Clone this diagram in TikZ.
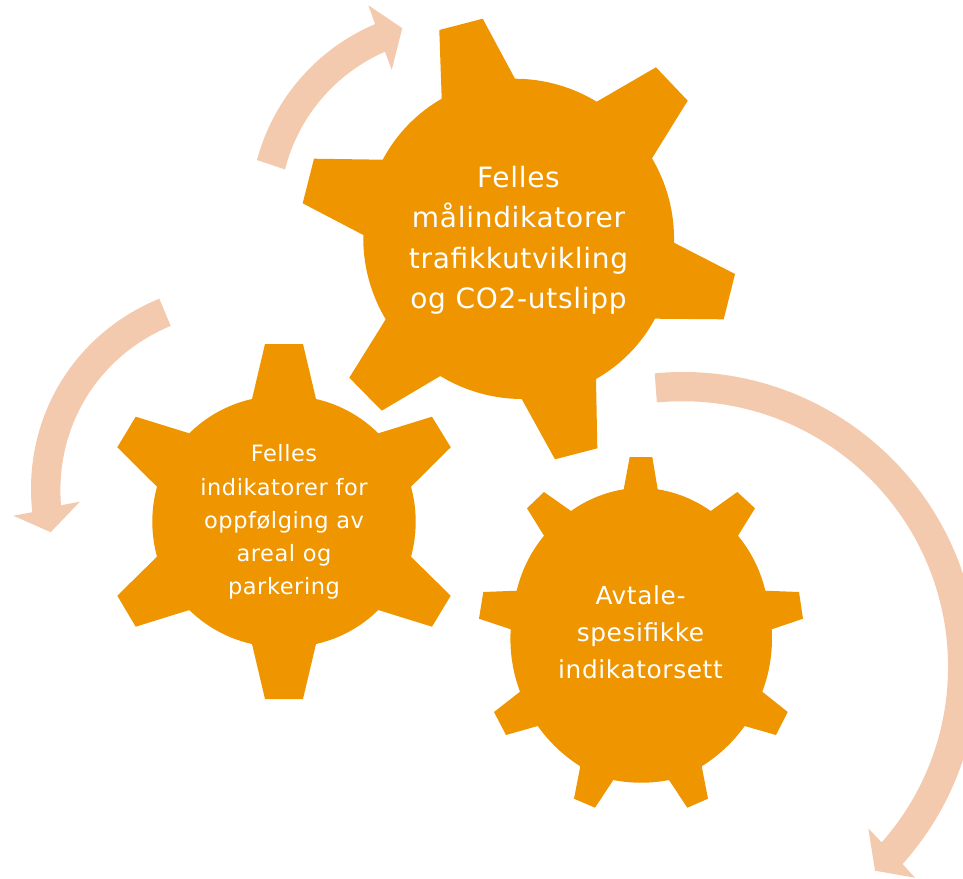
\documentclass[tikz,border=0pt]{standalone}
\usepackage{fontspec}
\setmainfont{DejaVu Sans}[LetterSpace=2.5]
\definecolor{gearorange}{HTML}{EE9500}
\definecolor{arrowpeach}{HTML}{F4CAAE}
\tikzset{
  gear/.style={fill=gearorange,draw=none},
  flow/.style={fill=arrowpeach,draw=none},
  gb/.style={bend right=#1,looseness=.87},
  rb/.style={bend left=#1,looseness=.87},
  gearlabel/.style={text=white,align=center,inner sep=0pt},
}
\begin{document}
\begin{tikzpicture}[x=1pt,y=1pt,yscale=-1]
\useasboundingbox (0,0) rectangle (963,878);
\clip (0,0) rectangle (963,878);
% flow arrows
\path[flow] (257,160) to[gb=26,looseness=.9] (375,24.1) -- (368.3,5.2) -- (402.3,28.2) -- (391.7,69.9) -- (385,51.7)
  to[rb=26,looseness=.9] (285,169.5) -- cycle;
\path[flow] (159.3,298.7) to[rb=37,looseness=.96] (32.3,512.2) -- (13.3,515.7) -- (50.7,532.2) -- (80,501.6) -- (61,505.3)
  to[gb=36,looseness=.96] (170.7,325.9) -- cycle;
\path[flow] (683,667) ++(-95.5:295) arc[start angle=-95.5,end angle=41.9,radius=295]
  -- (915,877.7) -- (875,870.7) -- (868.3,828.3) -- (881.7,842.3)
  arc[start angle=41.4,end angle=-95.55,radius=265.5] -- cycle;
% gear 1
\path[gear] (439.3,30) -- (482.7,18.7) -- (515,78.7) to[gb=15.5] (596.7,101.7)
  -- (656,67.3) -- (687.7,100.7) -- (652,158.3) to[gb=16] (674,242.7)
  -- (735,274) -- (723.7,319.3) -- (655,318.7) to[gb=16] (596,379)
  -- (597.3,448.3) -- (555,459.3) -- (521.7,399) to[gb=15.5] (440.3,376)
  -- (381.7,410.7) -- (349.3,377.7) -- (385.7,319.3) to[gb=16] (363.3,235)
  -- (302.7,203.3) -- (314,158.7) -- (382.7,159.7) to[gb=16] (441.7,98.7) -- cycle;
% gear 2
\path[gear] (265,344) -- (303,344) -- (316,399) to[gb=16] (378.3,433.3)
  -- (432,416.7) -- (450.7,447.3) -- (411,486.7) to[gb=15.3] (411,556.7)
  -- (450.7,595.7) -- (432,626.7) -- (378.3,610) to[gb=16] (316,644)
  -- (303,699) -- (265,699) -- (252,644) to[gb=16] (189.3,610)
  -- (135.7,626.7) -- (117.3,595.7) -- (157,556.7) to[gb=15.3] (157,486.7)
  -- (117.3,447.3) -- (135.7,416.7) -- (189.3,433.3) to[gb=16] (252,399) -- cycle;
% gear 3
\path[gear] (629.7,457) -- (652.3,457) -- (657.7,489.3) to[gb=13] (710.7,511)
  -- (737.3,492) -- (755,508.3) -- (738,535.7) to[gb=13] (765.3,590.7)
  -- (799,592) -- (803,618.7) -- (771.7,629.3) to[gb=12] (762.3,691.7)
  -- (787.7,712) -- (776,735) -- (744.7,726) to[gb=11] (701.7,766.3)
  -- (708,798.7) -- (687.3,807.7) -- (669,780) to[gb=11] (613.3,780)
  -- (595,807.7) -- (574,798.7) -- (580.3,766.3) to[gb=11] (537.7,726)
  -- (506,735) -- (494,712) -- (520,691.7) to[gb=12] (510.7,629.3)
  -- (479,618.7) -- (483.3,592) -- (516.7,590.7) to[gb=13] (544,535.7)
  -- (527,508.3) -- (544,492) -- (571,511) to[gb=13] (623.7,489.3) -- cycle;
% labels
\node[gearlabel,font=\fontsize{28}{40.5}\selectfont] (g1) at (518.5,240.5) {Felles\\målindikatorer\\trafikkutvikling\\og CO2-utslipp};
\node[gearlabel,font=\fontsize{22.5}{33.2}\selectfont] (g2) at (284,522) {Felles\\indikatorer for\\oppfølging av\\areal og\\parkering};
\node[gearlabel,font=\fontsize{24.8}{37}\selectfont] (g3) at (640.5,632) {Avtale-\\spesifikke\\indikatorsett};
\end{tikzpicture}
\end{document}
